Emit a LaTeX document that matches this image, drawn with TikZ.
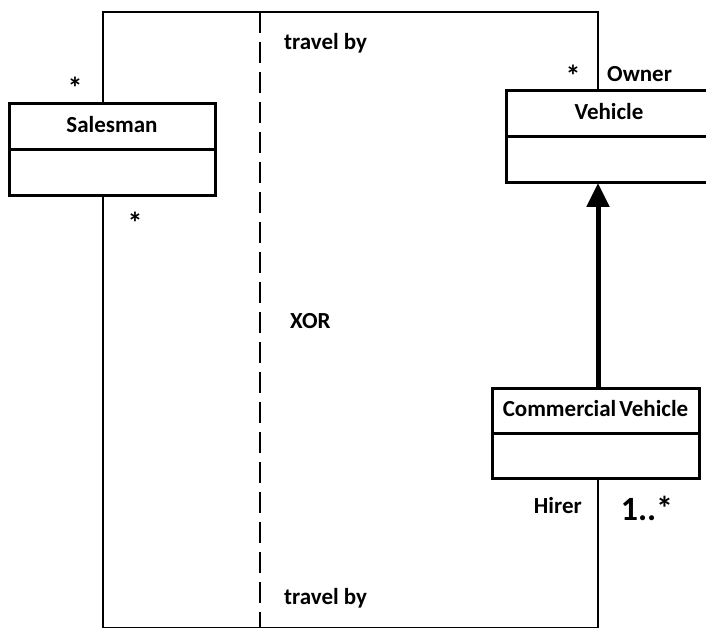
\documentclass[tikz,border=0pt]{standalone}
\usepackage{fontspec}
\setmainfont{Carlito}
\usetikzlibrary{arrows.meta}
\begin{document}
\begin{tikzpicture}[x=1pt,y=-1pt,
  hdr/.style={draw, line width=3pt, minimum width=206pt, minimum height=46pt, inner sep=0pt, outer sep=0pt, text height=15pt, text depth=3pt, font=\fontsize{23}{27}\selectfont\bfseries},
  bdy/.style={draw, line width=3pt, minimum width=206pt, minimum height=46pt, inner sep=0pt, outer sep=0pt},
  assoc/.style={line width=2.6pt},
  lbl/.style={inner sep=0pt, font=\fontsize{23}{27}\selectfont\bfseries},
  mult/.style={inner sep=0pt, font=\fontsize{30}{34}\selectfont\bfseries}]
\useasboundingbox (0,0) rectangle (706,628);
\clip (0,0) rectangle (706,628);

% classes
\node[hdr] (sh) at (112,127) {Salesman};
\node[bdy, anchor=north] (sb) at (sh.south) {};
\node[hdr] (vh) at (609,114) {Vehicle};
\node[bdy, anchor=north] (vb) at (vh.south) {};
\node[hdr, minimum width=207pt, minimum height=45pt] (ch) at (595.5,410.5) {Commercial\hspace{3pt}Vehicle};
\node[bdy, minimum width=207pt, minimum height=45pt, anchor=north] (cb) at (ch.south) {};

% corner coordinates
\coordinate (tl) at (103,12);
\coordinate (tr) at (598,12);
\coordinate (bl) at (103,628.3);
\coordinate (br) at (598,628.3);
\coordinate (dt) at (260,12);
\coordinate (db) at (260,628);

% associations
\draw[assoc] (sh.north -| tl) -- (tl) -- (tr) -- (vh.north -| tr);
\draw[assoc] (sb.south -| bl) -- (bl) -- (br) -- (cb.south -| br);
% generalization
\draw[line width=5pt, -{Triangle[length=24pt,width=22pt]}] (ch.north -| tr) -- (vb.south -| tr);
% xor constraint
\draw[line width=2.6pt, dash pattern=on 21pt off 9pt] (dt) -- (db);

% labels
\node[mult, anchor=north] (s1) at (75,77) {*};
\node[mult, anchor=north] (s2) at (135,212) {*};
\node[mult, anchor=north] (s3) at (573,65) {*};
\node[lbl, anchor=base west] (tb1) at (284,50) {travel by};
\node[lbl, anchor=base west] (tb2) at (284,604) {travel by};
\node[lbl, anchor=base west] (xor) at (290,328) {XOR};
\node[lbl, anchor=base west] (own) at (607,82) {Owner};
\node[lbl, anchor=base east] (hir) at (582,513) {Hirer};
\node[inner sep=0pt, font=\fontsize{34}{40}\selectfont\bfseries, anchor=base] (m1) at (647,520) {1..*};
\end{tikzpicture}
\end{document}
